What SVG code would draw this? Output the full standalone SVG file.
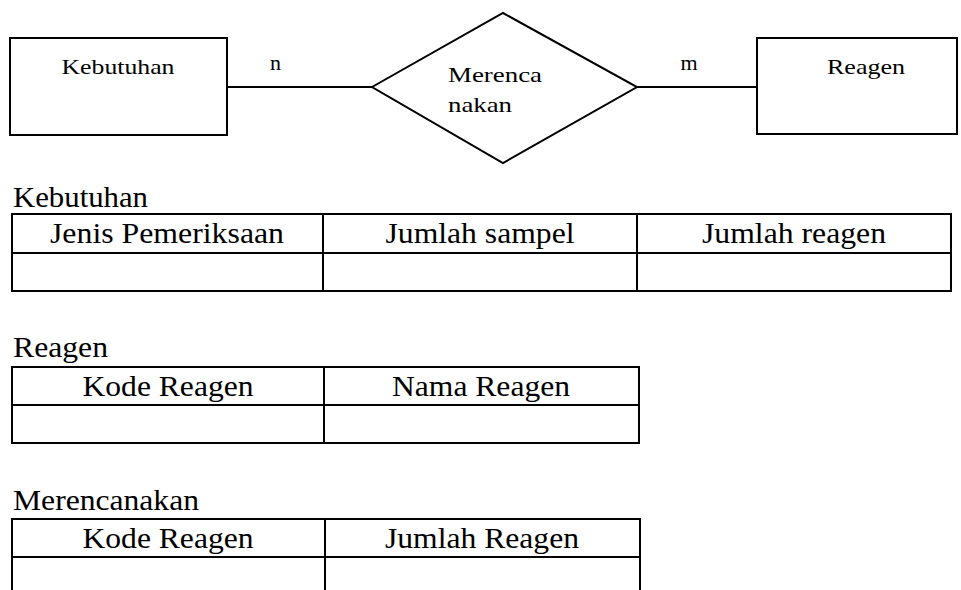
<svg xmlns="http://www.w3.org/2000/svg" width="961" height="590" viewBox="0 0 961 590">
<style>
.s{fill:#fff;stroke:#000;stroke-width:2}
.l{stroke:#000;stroke-width:2;fill:none}
.t{font-family:"Liberation Serif","Times New Roman",serif;font-size:22px;fill:#000}
.tb{font-family:"Liberation Serif","Times New Roman",serif;font-size:30px;fill:#000}
.c{text-anchor:middle}
</style>
<rect width="961" height="590" fill="#fff"/>
<g id="connectors">
<line class="l" x1="227" y1="87" x2="372" y2="87"/>
<line class="l" x1="637" y1="87" x2="757" y2="87"/>
<text class="t" x="270" y="70">n</text>
<text class="t c" x="689" y="70">m</text>
</g>
<g id="kebutuhan">
<rect class="s" x="10" y="38" width="217" height="97"/>
<text class="t c" x="118" y="74" textLength="113" lengthAdjust="spacingAndGlyphs">Kebutuhan</text>
</g>
<g id="merencanakan">
<polygon class="s" points="372,87 503,13 637,87 503,163"/>
<text class="t" x="448" y="82" textLength="94" lengthAdjust="spacingAndGlyphs">Merenca</text>
<text class="t" x="448" y="112" textLength="64" lengthAdjust="spacingAndGlyphs">nakan</text>
</g>
<g id="reagen">
<rect class="s" x="757" y="38" width="200" height="96"/>
<text class="t c" x="866" y="74" textLength="78" lengthAdjust="spacingAndGlyphs">Reagen</text>
</g>
<g id="table-kebutuhan">
<text class="tb" x="13" y="207" textLength="135" lengthAdjust="spacingAndGlyphs">Kebutuhan</text>
<rect class="s" x="12" y="214" width="939" height="77"/>
<line class="l" x1="12" y1="253" x2="951" y2="253"/>
<line class="l" x1="323" y1="214" x2="323" y2="291"/>
<line class="l" x1="637" y1="214" x2="637" y2="291"/>
<text class="tb c" x="167" y="243" textLength="234" lengthAdjust="spacingAndGlyphs">Jenis Pemeriksaan</text>
<text class="tb c" x="480" y="243" textLength="189" lengthAdjust="spacingAndGlyphs">Jumlah sampel</text>
<text class="tb c" x="794" y="243" textLength="184" lengthAdjust="spacingAndGlyphs">Jumlah reagen</text>
</g>
<g id="table-reagen">
<text class="tb" x="13" y="357" textLength="95" lengthAdjust="spacingAndGlyphs">Reagen</text>
<rect class="s" x="12" y="367" width="627" height="76"/>
<line class="l" x1="12" y1="405" x2="639" y2="405"/>
<line class="l" x1="324" y1="367" x2="324" y2="443"/>
<text class="tb c" x="168" y="396" textLength="171" lengthAdjust="spacingAndGlyphs">Kode Reagen</text>
<text class="tb c" x="481" y="396" textLength="178" lengthAdjust="spacingAndGlyphs">Nama Reagen</text>
</g>
<g id="table-merencanakan">
<text class="tb" x="13" y="510" textLength="186" lengthAdjust="spacingAndGlyphs">Merencanakan</text>
<rect class="s" x="12" y="519" width="628" height="77"/>
<line class="l" x1="12" y1="557" x2="640" y2="557"/>
<line class="l" x1="325" y1="519" x2="325" y2="596"/>
<text class="tb c" x="168" y="548" textLength="171" lengthAdjust="spacingAndGlyphs">Kode Reagen</text>
<text class="tb c" x="482" y="548" textLength="194" lengthAdjust="spacingAndGlyphs">Jumlah Reagen</text>
</g>
</svg>
